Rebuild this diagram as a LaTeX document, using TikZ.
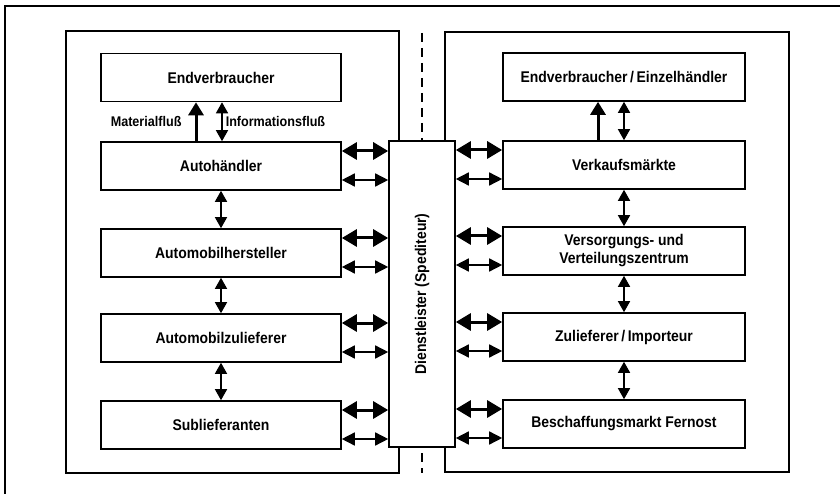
\documentclass[tikz,border=0pt]{standalone}
\usepackage{fontspec}
\setmainfont{Liberation Sans}[FakeStretch=0.9]
\usepackage{graphicx}
\usetikzlibrary{arrows.meta}

\begin{document}
\begin{tikzpicture}[
    stage/.style={rectangle, draw, line width=1.6bp, minimum width=240bp,
                  minimum height=48bp, inner sep=0pt, fill=white, align=center,
                  font=\fontsize{15.5bp}{18bp}\selectfont\bfseries},
    area/.style={draw, line width=1.3bp},
    link/.style={{Triangle[length=11bp,width=12bp]}-{Triangle[length=11bp,width=12bp]},
                 line width=1.5bp},
    biglink/.style={{Triangle[length=15bp,width=17bp]}-{Triangle[length=15bp,width=17bp]},
                    line width=3bp},
    smalllink/.style={{Triangle[length=13bp,width=13bp]}-{Triangle[length=13bp,width=13bp]},
                      line width=1.5bp},
    matflow/.style={-{Triangle[length=13bp,width=15bp]}, line width=3bp},
    flowlabel/.style={font=\fontsize{14bp}{16bp}\selectfont\bfseries, inner sep=2bp},
    x=1bp, y=-1bp
]
\useasboundingbox (0,0) rectangle (840,494);

%% Rahmen
\draw[line width=1.5bp] (840,6) -- (5,6) -- (5,494);
\draw[area] (66,31) rectangle (399,473);
\draw[area] (445,32) rectangle (789,472);
\draw[line width=1.3bp, dash pattern=on 9bp off 6bp] (422,33) -- (422,473);

%% Dienstleister
\node[stage, minimum width=66bp, minimum height=306bp] (dienst) at (422,294)
      {\rotatebox{90}{Dienstleister (Spediteur)}};

%% Automobil (links)
\node[stage] (endv)  at (221,77.5) {Endverbraucher};
\node[stage] (autoh) at (221,166)  {Autohändler};
\node[stage] (herst) at (221,253)  {Automobilhersteller};
\node[stage] (zul)   at (221,338)  {Automobilzulieferer};
\node[stage] (subl)  at (221,425)  {Sublieferanten};

%% Handel (rechts)
\node[stage, minimum width=242bp] (einz)  at (624,77)  {Endverbraucher\,/\,Einzelhändler};
\node[stage, minimum width=242bp] (verk)  at (624,165)  {Verkaufsmärkte};
\node[stage, minimum width=242bp] (vers)  at (624,251)  {Versorgungs- und\\Verteilungszentrum};
\node[stage, minimum width=242bp] (impo)  at (624,337)  {Zulieferer\,/\,Importeur};
\node[stage, minimum width=242bp] (besch) at (624,424)  {Beschaffungsmarkt Fernost};

%% Material- und Informationsfluss oben
\draw[matflow] ([xshift=-25bp]autoh.north) -- node[left=11bp, flowlabel]{Materialfluß}
      ([xshift=-25bp]endv.south);
\draw[link] ([xshift=1bp]autoh.north) -- node[right=1bp, flowlabel]{Informationsfluß}
      ([xshift=1bp]endv.south);
\draw[matflow] ([xshift=-26bp]verk.north) -- ([xshift=-26bp]einz.south);
\draw[link] (verk.north) -- (einz.south);

%% Kette
\draw[link] (autoh.south) -- (herst.north);
\draw[link] (herst.south) -- (zul.north);
\draw[link] (zul.south) -- (subl.north);
\draw[link] (verk.south) -- (vers.north);
\draw[link] (vers.south) -- (impo.north);
\draw[link] (impo.south) -- (besch.north);

%% Anbindung an den Dienstleister
\foreach \n in {autoh,herst,zul,subl} {
  \draw[biglink] ([yshift=15bp]\n.east) -- ([yshift=15bp]dienst.west |- \n.east);
  \draw[smalllink] ([yshift=-14bp]\n.east) -- ([yshift=-14bp]dienst.west |- \n.east);
}
\foreach \n in {verk,vers,impo,besch} {
  \draw[biglink] ([yshift=15bp]dienst.east |- \n.west) -- ([yshift=15bp]\n.west);
  \draw[smalllink] ([yshift=-14bp]dienst.east |- \n.west) -- ([yshift=-14bp]\n.west);
}

\end{tikzpicture}
\end{document}
